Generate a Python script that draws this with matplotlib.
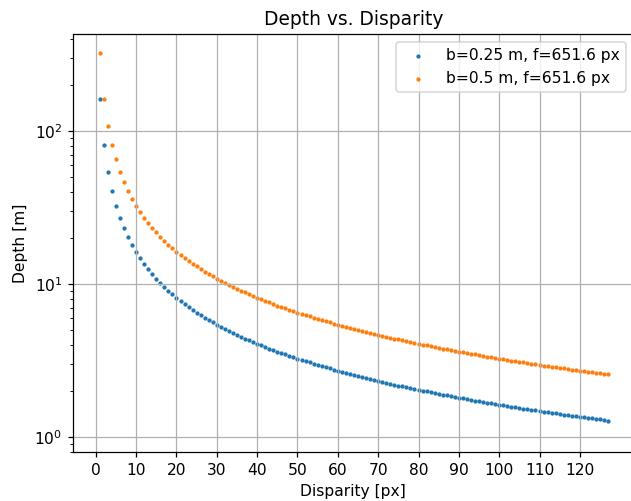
import numpy as np
import matplotlib
matplotlib.use("Agg")
import matplotlib.pyplot as plt

# stereo rig parameters shown in the legend
focal_px = 651.6
baselines_m = [0.25, 0.5]
colors = ["#1f77b4", "#ff7f0e"]

# integer disparities sampled along the x axis
disparity_px = np.arange(1, 128)

DPI = 112
fig, ax = plt.subplots(figsize=(631 / DPI, 501 / DPI), dpi=DPI)

for b, c in zip(baselines_m, colors):
    depth_m = b * focal_px / disparity_px
    ax.scatter(disparity_px, depth_m, s=3, color=c,
               label=f"b={b} m, f={focal_px} px")

ax.set_yscale("log")
ax.set_ylim(0.80, 430)
ax.set_xlim(-5.6, 133.3)
ax.set_xticks(np.arange(0, 121, 10))
ax.set_xlabel("Disparity [px]")
ax.set_ylabel("Depth [m]")
ax.set_title("Depth vs. Disparity")
ax.grid(True)
ax.legend(loc="upper right")

fig.subplots_adjust(left=0.116, right=1.004, top=0.932, bottom=0.098)
fig.savefig("out.png", dpi=DPI)
